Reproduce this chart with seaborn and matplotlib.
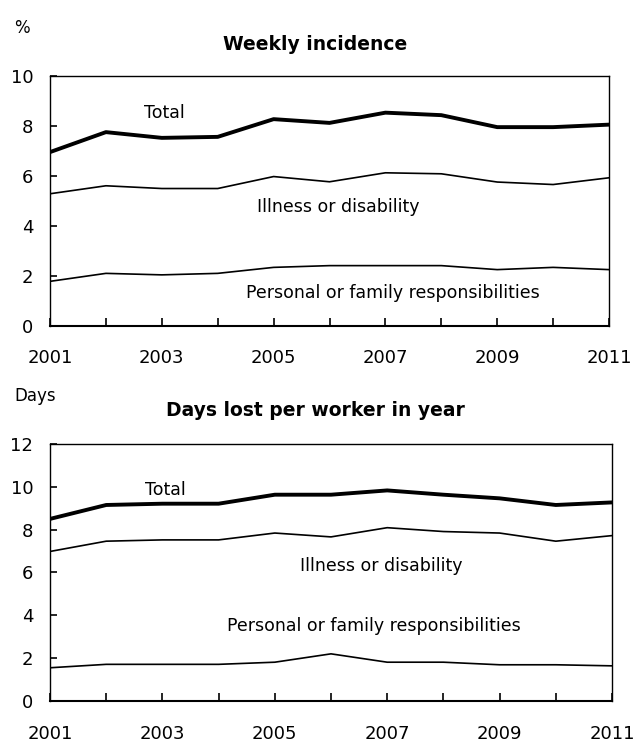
import matplotlib
matplotlib.use("Agg")
import matplotlib.pyplot as plt
import seaborn as sns
import pandas as pd
from matplotlib.ticker import MultipleLocator, FixedLocator

sns.set_theme(style="white")
plt.rcParams['font.family'] = ['DejaVu Sans']
plt.rcParams['text.color'] = 'black'
plt.rcParams['xtick.color'] = 'black'
plt.rcParams['ytick.color'] = 'black'

years = list(range(2001, 2012))
label_years = [2001, 2003, 2005, 2007, 2009, 2011]

weekly_total = [6.95, 7.75, 7.52, 7.56, 8.27, 8.12, 8.53, 8.43, 7.95, 7.95, 8.05]
weekly_illness = [5.28, 5.6, 5.49, 5.49, 5.97, 5.76, 6.12, 6.08, 5.75, 5.65, 5.92]
weekly_personal = [1.77, 2.09, 2.03, 2.09, 2.33, 2.4, 2.4, 2.4, 2.24, 2.33, 2.24]

days_total = [8.5, 9.15, 9.21, 9.21, 9.63, 9.63, 9.83, 9.63, 9.46, 9.15, 9.27]
days_illness = [6.98, 7.46, 7.52, 7.52, 7.84, 7.66, 8.09, 7.91, 7.84, 7.46, 7.72]
days_personal = [1.55, 1.71, 1.71, 1.71, 1.81, 2.2, 1.81, 1.81, 1.69, 1.69, 1.64]

series_names = ["Total", "Illness or disability", "Personal or family responsibilities"]

fig = plt.figure(figsize=(6.34, 7.42), dpi=100)
ax1 = fig.add_axes([0.0789, 0.5613, 0.8817, 0.3363])
ax2 = fig.add_axes([0.0789, 0.0553, 0.8864, 0.3464])

def draw(ax, vals, ymax, labels_pos):
    widths = [2.8, 1.2, 1.2]
    for name, v, lw in zip(series_names, vals, widths):
        df = pd.DataFrame({"year": years, "value": v})
        sns.lineplot(data=df, x="year", y="value", ax=ax, color="black", linewidth=lw)
    for name, (x, y) in zip(series_names, labels_pos):
        ax.text(x, y, name, ha="center", va="center", fontsize=12.5, color="black")
    ax.set_xlim(2001, 2011)
    ax.set_ylim(0, ymax)
    ax.set_xlabel("")
    ax.set_ylabel("")
    ax.xaxis.set_major_locator(FixedLocator(label_years))
    ax.xaxis.set_minor_locator(FixedLocator([y for y in years if y not in label_years]))
    ax.yaxis.set_major_locator(MultipleLocator(2))
    ax.tick_params(axis="x", which="both", direction="in", length=6, width=1.2,
                   bottom=True, pad=17, labelsize=13, colors="black")
    ax.tick_params(axis="y", which="major", direction="in", length=5, width=1.2,
                   left=True, pad=12, labelsize=13, colors="black")
    for s in ax.spines.values():
        s.set_color("black")
        s.set_linewidth(1.0)
    ax.spines["bottom"].set_linewidth(1.5)
    ax.set_facecolor("white")

draw(ax1, [weekly_total, weekly_illness, weekly_personal], 10,
     [(2003.05, 8.5), (2006.15, 4.73), (2007.13, 1.32)])
draw(ax2, [days_total, days_illness, days_personal], 12,
     [(2003.05, 9.83), (2006.89, 6.29), (2006.76, 3.49)])

fig.text(0.4968, 0.9407, "Weekly incidence", ha="center", va="center",
         fontsize=13.5, fontweight="bold", color="black")
fig.text(0.4968, 0.4461, "Days lost per worker in year", ha="center", va="center",
         fontsize=13.5, fontweight="bold", color="black")
fig.text(0.022, 0.9623, "%", ha="left", va="center", fontsize=12, color="black")
fig.text(0.022, 0.4663, "Days", ha="left", va="center", fontsize=12, color="black")

fig.savefig("out.png", dpi=100, facecolor="white")
